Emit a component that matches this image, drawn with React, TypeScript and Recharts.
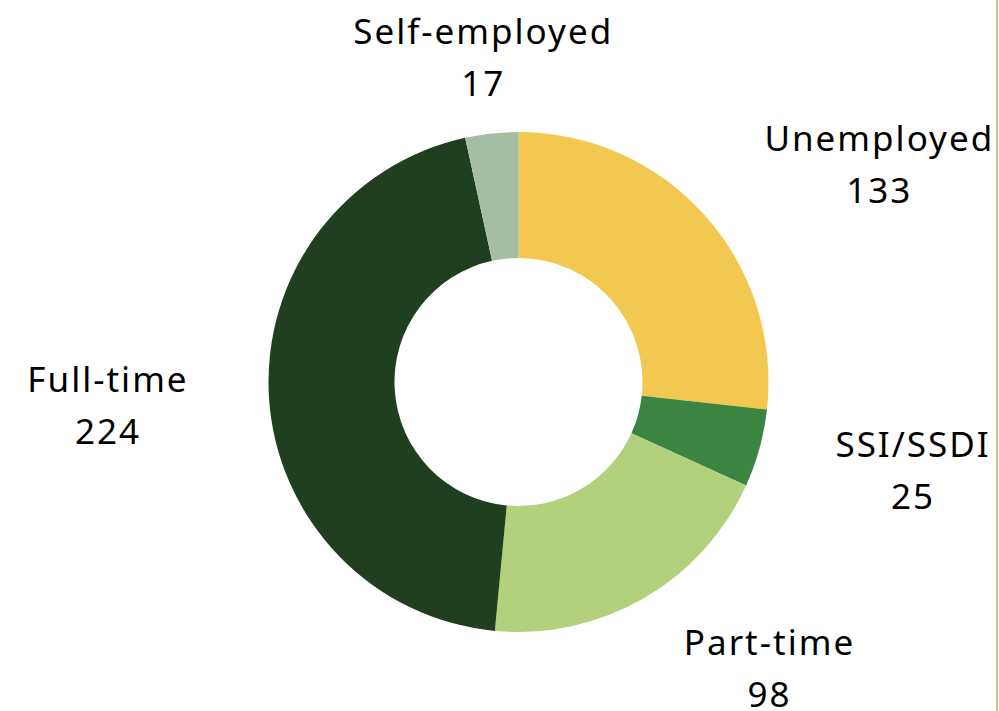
import React from "react";
import { PieChart, Pie, Cell } from "recharts";

const categories = ["Unemployed", "SSI/SSDI", "Part-time", "Full-time", "Self-employed"];
const counts = [133, 25, 98, 224, 17];
const colors = ["#F3C851", "#3B8540", "#B3D17C", "#203F21", "#A5BDA4"];

const data = categories.map((name, i) => ({ name, value: counts[i] }));

// label layout tweaks (relative to computed outside position)
const LABEL_NUDGE: Record<string, [number, number]> = {
  "Unemployed": [46, 37],
  "SSI/SSDI": [5, -13],
  "Part-time": [44, -44],
  "Full-time": [2, 1],
  "Self-employed": [13, 55],
};

const FONT = "'Noto Sans', sans-serif";
const FS = 35;
const RAD = Math.PI / 180;

const renderLabel = (props: any) => {
  const { cx, cy, midAngle, outerRadius, name, value } = props;
  const ux = Math.cos(-midAngle * RAD);
  const uy = Math.sin(-midAngle * RAD);
  const r = outerRadius + 80;
  const w = String(name).length * 18.5;
  const h = 104;
  const ax = cx + r * ux;
  const ay = cy + r * uy;
  const n = LABEL_NUDGE[name] || [0, 0];
  const bx = ax + (w / 2) * ux + n[0];
  const by = ay + (h / 2) * uy + n[1];
  return (
    <text
      x={bx}
      y={by}
      textAnchor="middle"
      fill="#000"
      fontFamily={FONT}
      fontSize={FS}
      letterSpacing={2}
    >
      <tspan x={bx} y={by - 27} dominantBaseline="central">{name}</tspan>
      <tspan x={bx} y={by + 25} dominantBaseline="central">{value}</tspan>
    </text>
  );
};

export default function App() {
  return (
    <div style={{ position: "absolute", left: 0, top: 0, width: 999, height: 711, background: "#fff" }}>
      <PieChart width={999} height={711} margin={{ top: 0, right: 0, bottom: 0, left: 0 }}>
        <Pie
          data={data}
          dataKey="value"
          nameKey="name"
          cx={518.5}
          cy={382}
          outerRadius={250}
          innerRadius={124}
          startAngle={90}
          endAngle={-270}
          stroke="none"
          labelLine={false}
          label={renderLabel}
          isAnimationActive={false}
        >
          {data.map((d, i) => (
            <Cell key={d.name} fill={colors[i]} />
          ))}
        </Pie>
      </PieChart>
      <div style={{ position: "absolute", left: 996, top: 0, width: 2, height: 711, background: "#B3D17C" }} />
    </div>
  );
}
